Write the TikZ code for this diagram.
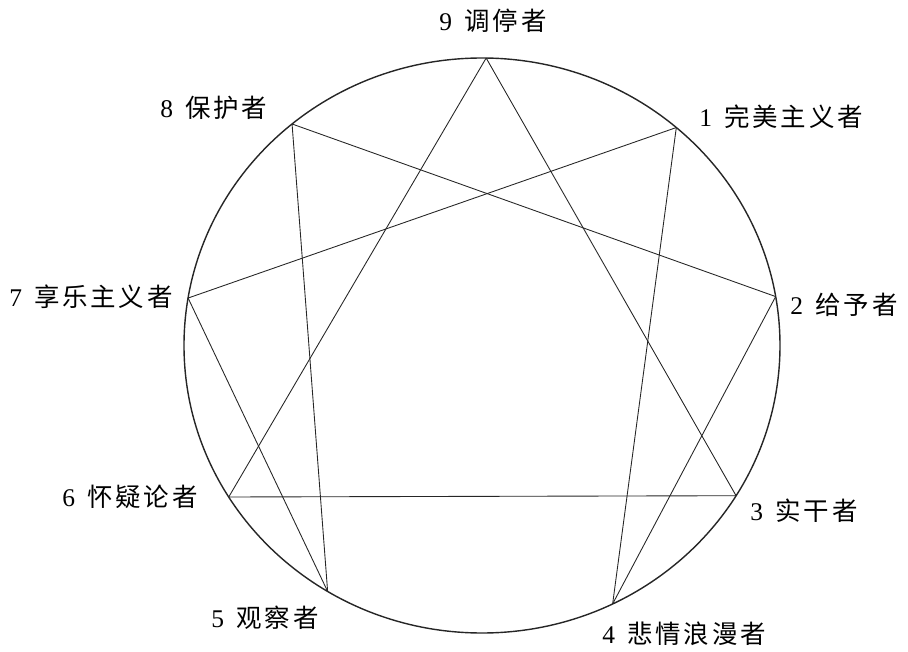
\documentclass[tikz,border=0pt]{standalone}
\usepackage{fontspec}
\setmainfont{Liberation Serif}
\newfontfamily\cjk[LetterSpace=10]{Noto Sans CJK SC}
\usepackage{tikz}
\newcommand{\tag}[2]{#1\hspace{0.5em}{\cjk #2}}

\begin{document}
\begin{tikzpicture}[lbl/.style={font=\fontsize{14.5}{17}\selectfont, inner sep=0pt},
		edge/.style={line width=0.5pt, black!85}]
		\useasboundingbox (-9.64,-6.11) rectangle (8.52,6.91);
		%\draw[gray] (-9.64,-6.11) rectangle (8.52,6.91);
		
		\draw [line width=0.8pt, black!85] (0,0) ellipse (5.96 and 5.75);
		
		\coordinate (P9) at (89.2:5.96 and 5.75);
		\coordinate (P1) at (49.3:5.96 and 5.75);
		\coordinate (P2) at (9.8:5.96 and 5.75);
		\coordinate (P3) at (-31.5:5.96 and 5.75);
		\coordinate (P4) at (-64:5.96 and 5.75);
		\coordinate (P5) at (-121.2:5.96 and 5.75);
		\coordinate (P6) at (-148.2:5.96 and 5.75);
		\coordinate (P7) at (170.5:5.96 and 5.75);
		\coordinate (P8) at (129.6:5.96 and 5.75);
		
		\node[lbl] (L9) at (0.22,6.49) {\tag{9}{调停者}};
		\node[lbl] (L1) at (5.98,4.57) {\tag{1}{完美主义者}};
		\node[lbl] (L2) at (7.24,0.81) {\tag{2}{给予者}};
		\node[lbl] (L3) at (6.44,-3.31) {\tag{3}{实干者}};
		\node[lbl] (L4) at (4.04,-5.77) {\tag{4}{悲情浪漫者}};
		\node[lbl] (L5) at (-4.34,-5.45) {\tag{5}{观察者}};
		\node[lbl] (L6) at (-7.04,-3.03) {\tag{6}{怀疑论者}};
		\node[lbl] (L7) at (-7.82,0.97) {\tag{7}{享乐主义者}};
		\node[lbl] (L8) at (-5.36,4.75) {\tag{8}{保护者}};
		
		% triangle
		\draw [edge] (P9) -- (P3);
		\draw [edge] (P3) -- (P6);
		\draw [edge] (P6) -- (P9);
		% hexad
		\draw [edge] (P1) -- (P4);
		\draw [edge] (P4) -- (P2);
		\draw [edge] (P2) -- (P8);
		\draw [edge] (P8) -- (P5);
		\draw [edge] (P5) -- (P7);
		\draw [edge] (P7) -- (P1);
	\end{tikzpicture}
\end{document}
